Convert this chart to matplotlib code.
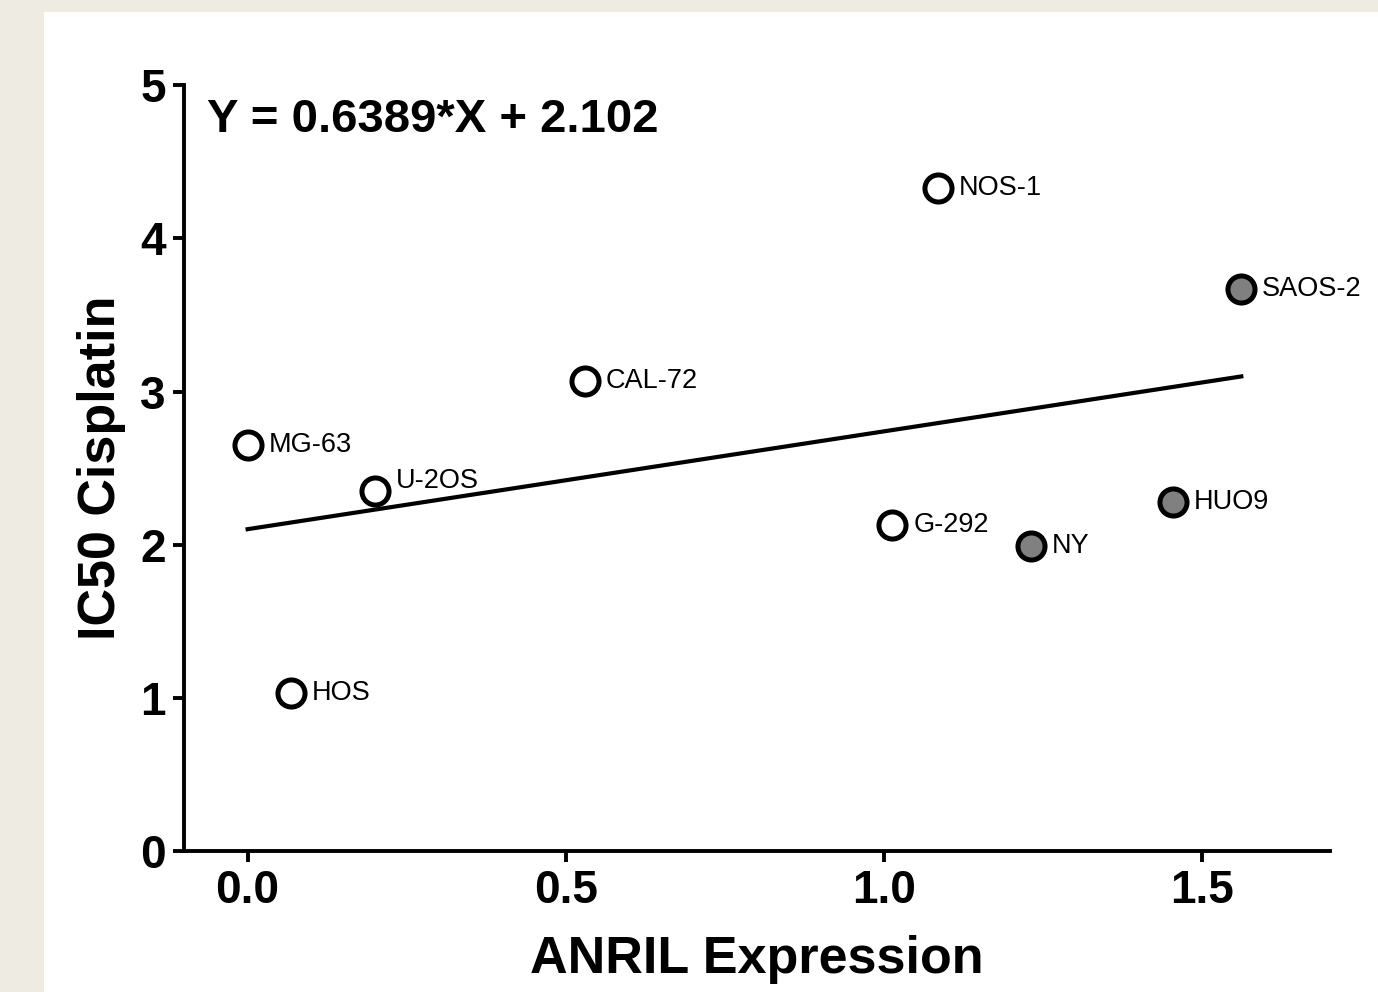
import matplotlib
matplotlib.use("Agg")
import matplotlib.pyplot as plt
from matplotlib.patches import Rectangle

# cell line data
cell_lines = ["MG-63", "HOS", "U-2OS", "CAL-72", "G-292", "NOS-1", "NY", "HUO9", "SAOS-2"]
anril = [0.0, 0.068, 0.20, 0.53, 1.013, 1.085, 1.231, 1.453, 1.561]
ic50 = [2.65, 1.03, 2.35, 3.07, 2.13, 4.33, 1.99, 2.28, 3.67]
filled = [False, False, False, False, False, False, True, True, True]

slope = 0.6389
intercept = 2.102
fit_x = [0.0, 1.561]

plt.rcParams['font.family'] = ['Liberation Sans', 'DejaVu Sans']

fig = plt.figure(figsize=(13.78, 9.92), dpi=100)
fig.patch.set_facecolor('#edebe2')
fig.patches.append(Rectangle((44 / 1378, 0), 1, (992 - 12) / 992,
                             transform=fig.transFigure, facecolor='white',
                             edgecolor='none', zorder=-10))

ax = fig.add_axes([0.1335, 0.142, 0.8315, 0.772])
ax.set_facecolor('none')

# regression line
ax.plot(fit_x, [slope * x + intercept for x in fit_x], color='black', lw=3, zorder=2)

for name, x, y, f in zip(cell_lines, anril, ic50, filled):
    ax.plot(x, y, 'o', ms=19.5, mew=3.6, mec='black',
            mfc='#808080' if f else 'white', zorder=3, clip_on=False)
    dy = 7 if name == "U-2OS" else 0
    ax.annotate(name, (x, y), xytext=(15, dy), textcoords='offset points',
                ha='left', va='center', fontsize=19.5)

ax.text(0.02, 0.955, "Y = 0.6389*X + 2.102", transform=ax.transAxes,
        fontsize=34, fontweight='bold', ha='left', va='center')

ax.set_xlim(-0.1, 1.7)
ax.set_ylim(0, 5)
ax.set_xticks([0.0, 0.5, 1.0, 1.5])
ax.set_xticklabels(["0.0", "0.5", "1.0", "1.5"])
ax.set_yticks([0, 1, 2, 3, 4, 5])

for side in ['top', 'right']:
    ax.spines[side].set_visible(False)
for side in ['left', 'bottom']:
    ax.spines[side].set_linewidth(2.8)

ax.tick_params(axis='both', direction='out', length=8, width=2.8,
               labelsize=33, pad=5)
for lbl in ax.get_xticklabels() + ax.get_yticklabels():
    lbl.set_fontweight('bold')

ax.set_xlabel("ANRIL Expression", fontsize=37.5, fontweight='bold', labelpad=16)
ax.set_ylabel("IC50 Cisplatin", fontsize=37.5, fontweight='bold', labelpad=10)

fig.savefig("out.png", dpi=100, facecolor=fig.get_facecolor())
